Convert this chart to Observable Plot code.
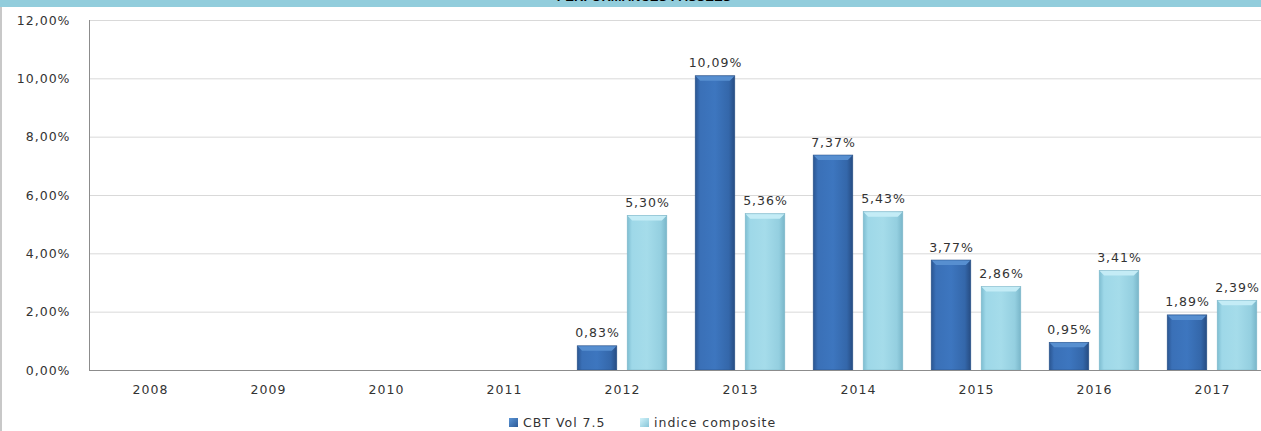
<!DOCTYPE html>
<html>
<head>
<meta charset="utf-8">
<script src="https://cdn.jsdelivr.net/npm/d3@7"></script>
<script src="https://cdn.jsdelivr.net/npm/@observablehq/plot@0.6"></script>
<style>
  html, body { margin: 0; padding: 0; background: #fff; overflow: hidden; }
  #wrap { position: relative; width: 1261px; height: 431px; overflow: hidden; font-family: "DejaVu Sans", sans-serif; }
  #titlebar { position: absolute; left: 0; top: 0; width: 1261px; height: 7px; background: #92cddc; overflow: hidden; }
  #title { position: absolute; left: 0; width: 1288px; text-align: center; top: -10px; font-family: "Liberation Sans", Arial, sans-serif; font-weight: bold; font-size: 13px; line-height: 13px; color: #000; white-space: nowrap; }
  #leftline { position: absolute; left: 0px; top: 7px; width: 2px; height: 424px; background: #c8c8c8; }
  #chart { position: absolute; left: 0; top: 0; }
  .leg { position: absolute; top: 416px; font-size: 12.5px; letter-spacing: 1px; color: #333; line-height: 14px; white-space: nowrap; }
  .sw { display: inline-block; width: 9px; height: 9px; margin-right: 5px; vertical-align: 0px; }
</style>
</head>
<body>
<div id="wrap">
  <div id="titlebar"><div id="title">PERFORMANCES PASSEES</div></div>
  <div id="leftline"></div>
  <div id="chart"></div>
  <div class="leg" style="left:509px"><span class="sw" style="background:linear-gradient(135deg,#5b95d6,#2d5a97)"></span>CBT Vol 7.5</div>
  <div class="leg" style="left:640px"><span class="sw" style="background:linear-gradient(135deg,#d3f3fa,#86c5d8)"></span>indice composite</div>
</div>
<script>
const years = ["2008", "2009", "2010", "2011", "2012", "2013", "2014", "2015", "2016", "2017"];
const seriesNames = ["CBT Vol 7.5", "indice composite"];
const cbtValues = [null, null, null, null, 0.83, 10.09, 7.37, 3.77, 0.95, 1.89];
const compositeValues = [null, null, null, null, 5.30, 5.36, 5.43, 2.86, 3.41, 2.39];
const yTicks = [0, 2, 4, 6, 8, 10, 12];

const fmt = v => v.toFixed(2).replace(".", ",") + "%";
const rows = vals => years.map((year, i) => ({year, value: vals[i]})).filter(d => d.value != null);
const cbtRows = rows(cbtValues);
const compRows = rows(compositeValues);

const chart = Plot.plot({
  width: 1261,
  height: 431,
  marginTop: 20,
  marginBottom: 61,
  marginLeft: 89,
  marginRight: 0,
  style: {fontFamily: "DejaVu Sans, sans-serif", fontSize: "12.5px", letterSpacing: "1px", color: "#333", background: "transparent"},
  x: {domain: years, range: [89, 1273], padding: 0, label: null},
  y: {domain: [0, 12], range: [370, 20], label: null},
  marks: [
    Plot.gridY(yTicks, {stroke: "#d9d9d9", strokeOpacity: 1}),
    Plot.axisY(yTicks, {tickSize: 0, tickPadding: 19, tickFormat: fmt, fill: "#333", label: null}),
    Plot.axisX({tickSize: 0, tickPadding: 15, fill: "#333", label: null}),
    Plot.barY(cbtRows, {x: "year", y: "value", dx: -25, insetLeft: 39.2, insetRight: 39.2, fill: "url(#gDark)", stroke: "#2a5288", strokeWidth: 0.6, title: d => seriesNames[0]}),
    Plot.barY(compRows, {x: "year", y: "value", dx: 25, insetLeft: 39.2, insetRight: 39.2, fill: "url(#gLight)", stroke: "#7fb8ca", strokeWidth: 0.6, title: d => seriesNames[1]}),
    Plot.text(cbtRows, {x: "year", y: "value", dx: -25, dy: -9, lineAnchor: "bottom", text: d => fmt(d.value), fill: "#333"}),
    Plot.text(compRows, {x: "year", y: "value", dx: 25, dy: -9, lineAnchor: "bottom", text: d => fmt(d.value), fill: "#333"}),
    Plot.ruleY([0], {stroke: "#8c8c8c"}),
    Plot.frame({anchor: "left", stroke: "#8c8c8c"})
  ]
});
document.getElementById("chart").appendChild(chart);

const svg = d3.select(chart);
const defs = svg.insert("defs", ":first-child");
function grad(id, stops) {
  const g = defs.append("linearGradient").attr("id", id).attr("x1", 0).attr("x2", 1).attr("y1", 0).attr("y2", 0);
  stops.forEach(([o, c]) => g.append("stop").attr("offset", o).attr("stop-color", c));
}
grad("gDark", [[0, "#2a5591"], [0.12, "#3a70b7"], [0.5, "#3d76bf"], [0.85, "#3467aa"], [1, "#264c82"]]);
grad("gLight", [[0, "#7dbdd1"], [0.12, "#9ed8e8"], [0.5, "#a5dcea"], [0.85, "#94cfe0"], [1, "#79b6c9"]]);

svg.selectAll("g[aria-label='bar']").each(function() {
  const g = d3.select(this);
  const dark = (g.attr("fill") || "").includes("gDark");
  g.selectAll("rect").each(function() {
    const r = d3.select(this);
    const x = +r.attr("x"), y = +r.attr("y"), w = +r.attr("width");
    g.append("polygon")
      .attr("points", `${x + 0.5},${y + 0.5} ${x + w - 0.5},${y + 0.5} ${x + w - 5},${y + 5} ${x + 5},${y + 5}`)
      .attr("fill", dark ? "#578fd0" : "#c4ecf6")
      .attr("stroke", "none");
  });
});
</script>
</body>
</html>
